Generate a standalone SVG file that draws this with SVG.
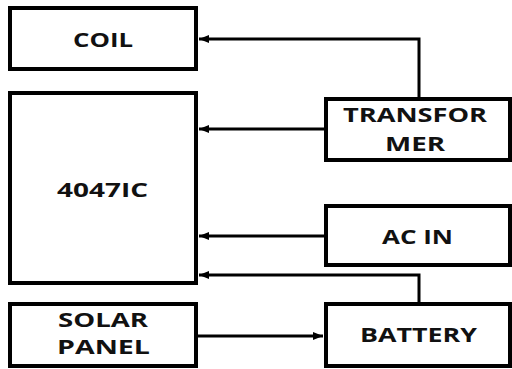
<svg xmlns="http://www.w3.org/2000/svg" width="512" height="369" viewBox="0 0 512 369">
<style>
.box{fill:#fff;stroke:#000;stroke-width:4}
.lbl{font-family:"Open Sans","DejaVu Sans",sans-serif;font-weight:bold;font-size:20px;fill:#111;text-anchor:middle}
.sm{font-size:19px}
.wire{fill:none;stroke:#000;stroke-width:3}
</style>
<defs>
<marker id="arr" viewBox="0 0 10 8" refX="10" refY="4" markerWidth="10" markerHeight="8" markerUnits="userSpaceOnUse" orient="auto">
<path d="M0,0 L10,4 L0,8 Z" fill="#000"/>
</marker>
</defs>
<rect width="512" height="369" fill="#fff"/>
<g id="connectors">
<polyline class="wire" points="419,97 419,39 199,39" marker-end="url(#arr)"/>
<line class="wire" x1="324" y1="129" x2="199" y2="129" marker-end="url(#arr)"/>
<line class="wire" x1="324" y1="236" x2="199" y2="236" marker-end="url(#arr)"/>
<polyline class="wire" points="419,302 419,275 199,275" marker-end="url(#arr)"/>
<line class="wire" x1="198" y1="336" x2="323" y2="336" marker-end="url(#arr)"/>
</g>
<g id="coil">
<rect class="box" x="10" y="8" width="186" height="61"/>
<text class="lbl" x="103" y="47" textLength="60" lengthAdjust="spacingAndGlyphs">COIL</text>
</g>
<g id="ic4047">
<rect class="box" x="10" y="93" width="186" height="190"/>
<text class="lbl" x="102.5" y="197" textLength="91" lengthAdjust="spacingAndGlyphs">4047IC</text>
</g>
<g id="solar">
<rect class="box" x="10" y="304" width="186" height="62"/>
<text class="lbl sm" x="103" y="327" textLength="90" lengthAdjust="spacingAndGlyphs">SOLAR</text>
<text class="lbl sm" x="103.5" y="353.5" textLength="93" lengthAdjust="spacingAndGlyphs">PANEL</text>
</g>
<g id="transformer">
<rect class="box" x="326" y="99" width="184" height="61"/>
<text class="lbl" x="415" y="122" textLength="144" lengthAdjust="spacingAndGlyphs">TRANSFOR</text>
<text class="lbl" x="415" y="151" textLength="60" lengthAdjust="spacingAndGlyphs">MER</text>
</g>
<g id="acin">
<rect class="box" x="326" y="206" width="184" height="59"/>
<text class="lbl" x="417.5" y="244" textLength="71" lengthAdjust="spacingAndGlyphs">AC IN</text>
</g>
<g id="battery">
<rect class="box" x="326" y="304" width="184" height="62"/>
<text class="lbl" x="418.5" y="342" textLength="117" lengthAdjust="spacingAndGlyphs">BATTERY</text>
</g>
</svg>
